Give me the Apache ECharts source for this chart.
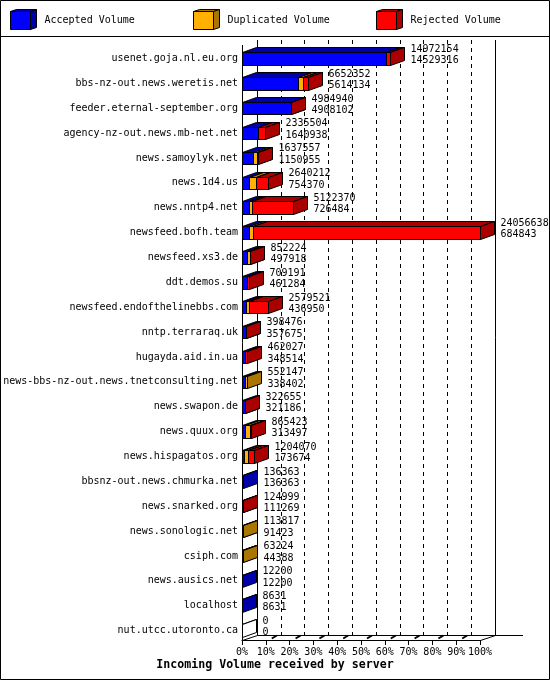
<!DOCTYPE html>
<html><head><meta charset="utf-8">
<script src="https://cdn.jsdelivr.net/npm/echarts@6/dist/echarts.min.js"></script>
<style>html,body{margin:0;padding:0;background:#fff}#c{width:550px;height:680px}</style>
</head><body><div id="c"></div>
<script>
const categories = [
  'usenet.goja.nl.eu.org','bbs-nz-out.news.weretis.net','feeder.eternal-september.org',
  'agency-nz-out.news.mb-net.net','news.samoylyk.net','news.1d4.us','news.nntp4.net',
  'newsfeed.bofh.team','newsfeed.xs3.de','ddt.demos.su','newsfeed.endofthelinebbs.com',
  'nntp.terraraq.uk','hugayda.aid.in.ua','news-bbs-nz-out.news.tnetconsulting.net',
  'news.swapon.de','news.quux.org','news.hispagatos.org','bbsnz-out.news.chmurka.net',
  'news.snarked.org','news.sonologic.net','csiph.com','news.ausics.net','localhost',
  'nut.utcc.utoronto.ca'
];
const totalVolume = [14972154,6652352,4984940,2335504,1637557,2640212,5122370,24056638,852224,709191,2579521,398476,462027,552147,322655,865423,1204070,136363,124999,113817,63224,12200,8631,0];
const acceptedVolume = [14529316,5614134,4908102,1640938,1150955,754370,726484,684843,497918,461284,436950,357675,348514,338402,321186,313497,173674,136363,111269,91423,44388,12200,8631,0];
const duplicatedVolume = [30000,580000,0,0,380000,640000,250000,440000,320000,0,240000,0,0,213745,0,480000,420000,0,0,22394,18836,0,0,0];
const rejectedVolume = [412838,458218,76838,694566,106602,1245842,4145886,22931795,34306,247907,1902571,40801,113513,0,1469,71926,610396,0,13730,0,0,0,0,0];
const seriesNames = ['Accepted Volume','Duplicated Volume','Rejected Volume'];
const xTickLabels = ['0%','10%','20%','30%','40%','50%','60%','70%','80%','90%','100%'];
const axisTitle = 'Incoming Volume received by server';

const FRONT = ['#0000ff','#ffb000','#ff0000'];
const DARK = ['#0000aa','#aa7500','#aa0000'];
const FONT = '"DejaVu Sans Mono", monospace';

const L = {left:242, width:238, top:46, bottom:643, floor:640, wallTop:45, backTop:40, dx:15, dy:5, bdx:14, bdy:5};
const maxTotal = Math.max(...totalVolume);

const data = categories.map((c,i)=>[i, acceptedVolume[i], duplicatedVolume[i], rejectedVolume[i]]);

function px(v){ return Math.round(v) + 0.5; }

function renderItem(params, api){
  const i = api.value(0);
  const vals = [api.value(1), api.value(2), api.value(3)];
  const yc = api.coord([0, i])[1];
  const band = api.size([0, 1])[1];
  const h = band * 0.5;
  const yt = px(yc - h/2), yb = px(yc + h/2);
  const dx = L.bdx, dy = L.bdy;
  const children = [];
  const box = (x0, x1, f, d) => {
    children.push({type:'rect', shape:{x:x0, y:yt, width:Math.max(0,x1-x0), height:yb-yt},
      style:{fill:f, stroke:'#000', lineWidth:1}});
    children.push({type:'polygon', shape:{points:[[x0,yt],[x0+dx,yt-dy],[x1+dx,yt-dy],[x1,yt]]},
      style:{fill:d, stroke:'#000', lineWidth:1}});
    children.push({type:'polygon', shape:{points:[[x1,yt],[x1+dx,yt-dy],[x1+dx,yb-dy],[x1,yb]]},
      style:{fill:d, stroke:'#000', lineWidth:1}});
  };
  let cum = 0;
  let xEnd = px(api.coord([0, i])[0]);
  if (!vals.some(v => v > 0)) {
    box(xEnd, xEnd, '#fff', '#fff');
  }
  for (let s = 0; s < 3; s++) {
    if (vals[s] <= 0) continue;
    const x0 = px(api.coord([cum / maxTotal * 100, i])[0]);
    cum += vals[s];
    const x1 = px(api.coord([cum / maxTotal * 100, i])[0]);
    box(x0, x1, FRONT[s], DARK[s]);
    xEnd = x1;
  }
  const tx = xEnd + dx + 6;
  children.push({type:'text', x:tx, y:yc - 9.2, style:{text:String(totalVolume[i]), font:'10px ' + FONT, fill:'#000', align:'left', verticalAlign:'middle'}});
  children.push({type:'text', x:tx, y:yc + 2.2, style:{text:String(acceptedVolume[i]), font:'10px ' + FONT, fill:'#000', align:'left', verticalAlign:'middle'}});
  return {type:'group', children};
}

const graphics = [];
// outer border and legend divider
graphics.push({type:'rect', shape:{x:0.5, y:0.5, width:549, height:679}, style:{fill:null, stroke:'#000', lineWidth:1}, silent:true, z:10});
graphics.push({type:'line', shape:{x1:0, y1:36.5, x2:550, y2:36.5}, style:{stroke:'#000', lineWidth:1}, silent:true});
// legend
const legendX = [10.5, 193.5, 376.5];
seriesNames.forEach((n, s) => {
  const x = legendX[s];
  graphics.push({type:'rect', shape:{x:x, y:11.5, width:20, height:18}, style:{fill:FRONT[s], stroke:'#000', lineWidth:1}, silent:true});
  graphics.push({type:'polygon', shape:{points:[[x,11.5],[x+6,9.5],[x+26,9.5],[x+20,11.5]]}, style:{fill:DARK[s], stroke:'#000', lineWidth:1}, silent:true});
  graphics.push({type:'polygon', shape:{points:[[x+20,11.5],[x+26,9.5],[x+26,27.5],[x+20,29.5]]}, style:{fill:DARK[s], stroke:'#000', lineWidth:1}, silent:true});
  graphics.push({type:'text', x:x + 34, y:20.5, style:{text:n, font:'10px ' + FONT, fill:'#000', align:'left', verticalAlign:'middle'}, silent:true});
});
// 3D frame
const fl = (x1,y1,x2,y2,w) => graphics.push({type:'line', shape:{x1,y1,x2,y2}, style:{stroke:'#000', lineWidth:w||1}, silent:true, z:1});
const X0 = L.left + 0.5, XR = L.left + L.width + 0.5, FY = L.floor + 0.5, BY = L.floor - L.dy + 0.5;
fl(X0, L.wallTop, X0, FY);
fl(X0 + L.dx, L.backTop, X0 + L.dx, BY);
fl(XR + L.dx, L.backTop, XR + L.dx, BY);
fl(X0 + L.dx, BY, 523, BY);
fl(X0, FY, X0 + L.dx, BY);
fl(XR, FY, XR + L.dx, BY);
for (let k = 1; k <= 9; k++) {
  const x = L.left + L.width * k / 10;
  fl(x + 6, L.floor - 1.5, x + 11, L.floor - 4.5, 2);
}

const option = {
  animation: false,
  backgroundColor: '#fff',
  title: {text: axisTitle, left: 'center', top: 659, padding: 0,
    textStyle: {fontFamily: FONT, fontWeight: 'bold', fontSize: 11.6, color: '#000'}},
  grid: [
    {left: L.left, width: L.width, top: L.top, height: L.bottom - L.top},
    {left: L.left + L.dx, width: L.width, top: L.backTop, height: L.floor - L.dy - L.backTop}
  ],
  xAxis: [
    {gridIndex: 0, type: 'value', min: 0, max: 100, interval: 10, offset: -(L.bottom - L.floor),
      axisLine: {show: true, lineStyle: {color: '#000', width: 1}},
      axisTick: {show: true, length: 5, lineStyle: {color: '#000', width: 1}},
      axisLabel: {formatter: v => xTickLabels[Math.round(v / 10)], fontFamily: FONT, fontSize: 10, color: '#000', margin: 7},
      splitLine: {show: false}},
    {gridIndex: 1, type: 'value', min: 0, max: 100, interval: 10,
      axisLine: {show: false}, axisTick: {show: false}, axisLabel: {show: false},
      splitLine: {show: true, showMinLine: false, showMaxLine: false, lineStyle: {color: '#000', width: 1, type: [4, 4]}}}
  ],
  yAxis: [
    {gridIndex: 0, type: 'category', data: categories, inverse: true,
      axisLine: {show: false}, axisTick: {show: false},
      axisLabel: {fontFamily: FONT, fontSize: 10, color: '#000', margin: 4},
      splitLine: {show: false}},
    {gridIndex: 1, type: 'value', show: false}
  ],
  graphic: graphics,
  series: [{
    type: 'custom', xAxisIndex: 0, yAxisIndex: 0, renderItem, data,
    encode: {x: [1, 2, 3], y: 0}, clip: false, z: 5
  }]
};
const chart = echarts.init(document.getElementById('c'), null, {renderer: 'canvas'});
chart.setOption(option);
</script></body></html>
